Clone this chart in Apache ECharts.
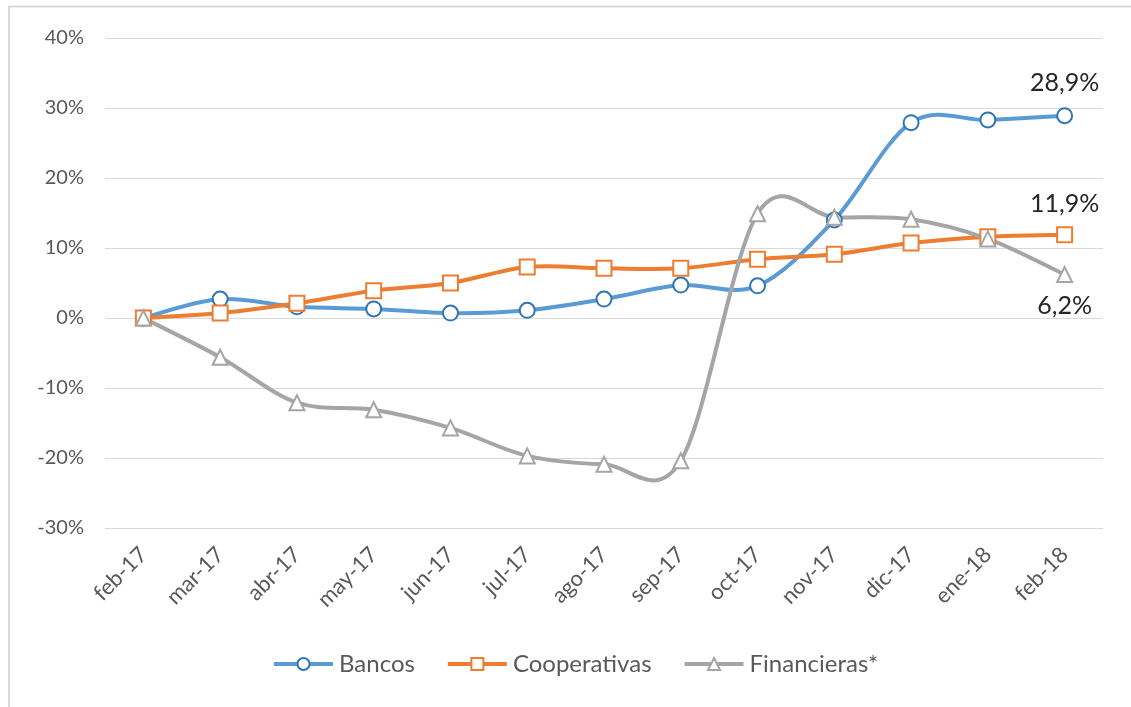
<!DOCTYPE html>
<html>
<head>
<meta charset="utf-8">
<script src="https://cdn.jsdelivr.net/npm/echarts@6/dist/echarts.min.js"></script>
<style>html,body{margin:0;padding:0;background:#fff;}#c{width:1131px;height:707px;}</style>
</head>
<body>
<div id="c"></div>
<script>
const categories = ['feb-17','mar-17','abr-17','may-17','jun-17','jul-17','ago-17','sep-17','oct-17','nov-17','dic-17','ene-18','feb-18'];
const bancos = [0, 2.7, 1.6, 1.3, 0.7, 1.1, 2.7, 4.7, 4.6, 14.0, 27.9, 28.3, 28.9];
const cooperativas = [0, 0.7, 2.1, 3.9, 5.0, 7.3, 7.1, 7.1, 8.4, 9.1, 10.7, 11.6, 11.9];
const financieras = [0, -5.6, -12.1, -13.1, -15.7, -19.7, -20.9, -20.4, 14.9, 14.4, 14.1, 11.3, 6.2];
const yTicks = [-30, -20, -10, 0, 10, 20, 30, 40];

const FONT = 'Lato, "Open Sans", sans-serif';
const chart = echarts.init(document.getElementById('c'));

// Catmull-Rom (Excel-like) smooth curve through the data, using the chart's own scales
function curveSeries(values, color) {
  return {
    type: 'custom', silent: true, z: 1,
    data: [0],
    renderItem: function (params, api) {
      const pts = values.map((v, i) => api.coord([i, v]));
      let d = 'M' + pts[0][0] + ',' + pts[0][1];
      for (let i = 0; i < pts.length - 1; i++) {
        const p0 = pts[Math.max(0, i - 1)], p1 = pts[i], p2 = pts[i + 1], p3 = pts[Math.min(pts.length - 1, i + 2)];
        const c1 = [p1[0] + (p2[0] - p0[0]) / 6, p1[1] + (p2[1] - p0[1]) / 6];
        const c2 = [p2[0] - (p3[0] - p1[0]) / 6, p2[1] - (p3[1] - p1[1]) / 6];
        d += ' C' + c1[0] + ',' + c1[1] + ' ' + c2[0] + ',' + c2[1] + ' ' + p2[0] + ',' + p2[1];
      }
      return { type: 'path', shape: { pathData: d }, style: { fill: null, stroke: color, lineWidth: 4, lineCap: 'round', lineJoin: 'round' } };
    }
  };
}

function lastLabel(pos, dist) {
  return {
    show: true, position: pos, distance: dist,
    fontFamily: FONT, fontSize: 25, color: '#262626',
    formatter: p => p.dataIndex === categories.length - 1 ? p.value.toFixed(1).replace('.', ',') + '%' : ''
  };
}

function markerSeries(name, data, borderColor, symbol, size, labelPos, dist) {
  return {
    name, type: 'line', data, symbol, symbolSize: size,
    lineStyle: { width: 0, opacity: 0 },
    itemStyle: { color: '#fff', borderColor: borderColor, borderWidth: 2 },
    label: lastLabel(labelPos, dist),
    emphasis: { disabled: true },
    z: 3
  };
}

chart.setOption({
  animation: false,
  backgroundColor: '#fff',
  graphic: [
    { type: 'line', shape: { x1: 9, y1: 6.5, x2: 1131, y2: 6.5 }, style: { stroke: '#d9d9d9', lineWidth: 2 } },
    { type: 'line', shape: { x1: 9, y1: 6, x2: 9, y2: 707 }, style: { stroke: '#d9d9d9', lineWidth: 2 } }
  ],
  grid: { left: 105, right: 28, top: 38, bottom: 179, containLabel: false },
  legend: {
    bottom: 26, left: 267, itemGap: 31, itemWidth: 59, itemHeight: 15,
    textStyle: { fontFamily: FONT, fontSize: 24, color: '#595959', padding: [0, 0, 0, 1] },
    data: [
      { name: 'Bancos', lineStyle: { color: '#5B9BD5', width: 4, opacity: 1 } },
      { name: 'Cooperativas', lineStyle: { color: '#ED7D31', width: 4, opacity: 1 } },
      { name: 'Financieras*', lineStyle: { color: '#A5A5A5', width: 4, opacity: 1 } }
    ]
  },
  xAxis: {
    type: 'category', data: categories, boundaryGap: true,
    axisLine: { show: false }, axisTick: { show: false },
    axisLabel: { rotate: 45, margin: 23, fontFamily: FONT, fontSize: 22, color: '#595959', interval: 0 }
  },
  yAxis: {
    type: 'value', min: yTicks[0], max: yTicks[yTicks.length - 1], interval: 10,
    axisLine: { show: false }, axisTick: { show: false },
    axisLabel: { fontFamily: FONT, fontSize: 20, color: '#595959', margin: 21, formatter: v => v + '%' },
    splitLine: { lineStyle: { color: '#d9d9d9', width: 1 } }
  },
  series: [
    curveSeries(bancos, '#5B9BD5'),
    curveSeries(cooperativas, '#ED7D31'),
    curveSeries(financieras, '#A5A5A5'),
    markerSeries('Bancos', bancos, '#2E75B6', 'circle', 15, 'top', 12),
    markerSeries('Cooperativas', cooperativas, '#ED7D31', 'rect', 15, 'top', 10),
    markerSeries('Financieras*', financieras, '#A5A5A5', 'triangle', 15, 'bottom', 10)
  ]
});
</script>
</body>
</html>
